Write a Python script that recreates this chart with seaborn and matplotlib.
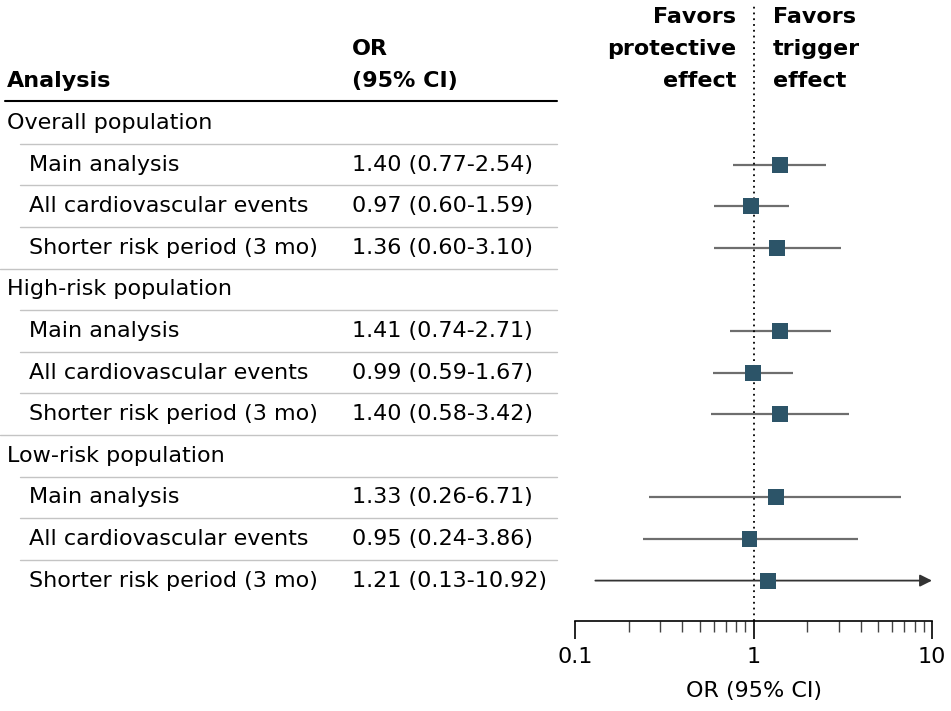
import matplotlib
matplotlib.use("Agg")
import matplotlib.pyplot as plt
import matplotlib.transforms as mtransforms
import numpy as np
import pandas as pd
import seaborn as sns

groups = ["Overall population", "High-risk population", "Low-risk population"]
analyses = ["Main analysis", "All cardiovascular events", "Shorter risk period (3 mo)"]

or_values = [1.40, 0.97, 1.36, 1.41, 0.99, 1.40, 1.33, 0.95, 1.21]
ci_low = [0.77, 0.60, 0.60, 0.74, 0.59, 0.58, 0.26, 0.24, 0.13]
ci_high = [2.54, 1.59, 3.10, 2.71, 1.67, 3.42, 6.71, 3.86, 10.92]

x_ticks = [0.1, 1, 10]
x_tick_labels = ["0.1", "1", "10"]

sns.set_style("white")
plt.rcParams["font.family"] = ["DejaVu Sans"]
plt.rcParams["text.color"] = "black"
plt.rcParams["axes.labelcolor"] = "black"
plt.rcParams["xtick.color"] = "black"

W, H = 951, 711
fig = plt.figure(figsize=(W / 100, H / 100), dpi=100)

# forest axes placed to match pixel layout
ax = fig.add_axes([575 / W, 90 / H, 357 / W, 621 / H])

# build rows: group header then 3 analyses
rows = []
k = 0
for g in groups:
    rows.append(dict(label=g, kind="group"))
    for a in analyses:
        rows.append(dict(label=a, kind="item", OR=or_values[k], lo=ci_low[k], hi=ci_high[k]))
        k += 1
df = pd.DataFrame(rows)
df["row"] = np.arange(len(df))
items = df[df.kind == "item"]

xmin, xmax = 0.1, 10
ax.set_xscale("log")
ax.set_xlim(xmin, xmax)
row_px0, row_step = 123, 41.6
ax.set_ylim((621 - row_px0) / row_step, -row_px0 / row_step)

# CI lines
for _, r in items.iterrows():
    if r.hi > xmax:
        ax.annotate("", xy=(xmax, r.row), xytext=(r.lo, r.row),
                    arrowprops=dict(arrowstyle="-|>", color="#333333", lw=1.3,
                                    mutation_scale=18, shrinkA=0, shrinkB=0))
    else:
        ax.hlines(r.row, r.lo, r.hi, color="#6e6e6e", lw=1.6)

sns.scatterplot(data=items, x="OR", y="row", marker="s", s=130, color="#2c5468",
                edgecolor="none", ax=ax, zorder=3)

ax.axvline(1, color="black", lw=1.3, ls=(0, (1, 2.2)), ymin=0, ymax=0.99)

for s in ["top", "right", "left"]:
    ax.spines[s].set_visible(False)
ax.spines["bottom"].set_linewidth(1.2)
ax.spines["bottom"].set_color("black")
ax.set_yticks([])
ax.set_ylabel("")
ax.set_xticks(x_ticks)
ax.set_xticklabels(x_tick_labels, fontsize=16)
ax.tick_params(axis="x", which="both", bottom=True)
ax.tick_params(axis="x", which="major", direction="out", length=13, width=1.2, pad=6, colors="black")
ax.tick_params(axis="x", which="minor", direction="out", length=8, width=1, color="#444444")
ax.xaxis.set_minor_formatter(matplotlib.ticker.NullFormatter())
ax.set_xlabel("OR (95% CI)", fontsize=16, labelpad=10)

# table text
tr = mtransforms.blended_transform_factory(fig.transFigure, ax.transData)
fs = 16
for _, r in df.iterrows():
    if r.kind == "group":
        fig.text(7 / W, r.row, r.label, transform=tr, fontsize=fs, va="center")
    else:
        fig.text(29 / W, r.row, r.label, transform=tr, fontsize=fs, va="center")
        fig.text(352 / W, r.row, f"{r.OR:.2f} ({r.lo:.2f}-{r.hi:.2f})", transform=tr,
                 fontsize=fs, va="center")

# separators
for i in range(1, len(df)):
    y = i - 0.5
    x0 = 0 if df.kind[i] == "group" else 20
    fig.add_artist(plt.Line2D([x0 / W, 557 / W], [y, y], color="#c4c4c4", lw=1, transform=tr))

hdr = -1.0
fig.add_artist(plt.Line2D([5 / W, 557 / W], [hdr + 0.47, hdr + 0.47], color="black", lw=1.5, transform=tr))
fig.text(7 / W, hdr, "Analysis", transform=tr, fontsize=fs, fontweight="bold", va="center")
fig.text(352 / W, hdr, "(95% CI)", transform=tr, fontsize=fs, fontweight="bold", va="center")
fig.text(352 / W, hdr - 0.77, "OR", transform=tr, fontsize=fs, fontweight="bold", va="center")

for j, (a, b) in enumerate(zip(["Favors", "protective", "effect"], ["Favors", "trigger", "effect"])):
    yy = hdr - 0.77 * (2 - j)
    fig.text(736 / W, yy, a, transform=tr, fontsize=fs, fontweight="bold", va="center", ha="right")
    fig.text(773 / W, yy, b, transform=tr, fontsize=fs, fontweight="bold", va="center", ha="left")

fig.savefig("out.png", dpi=100)
